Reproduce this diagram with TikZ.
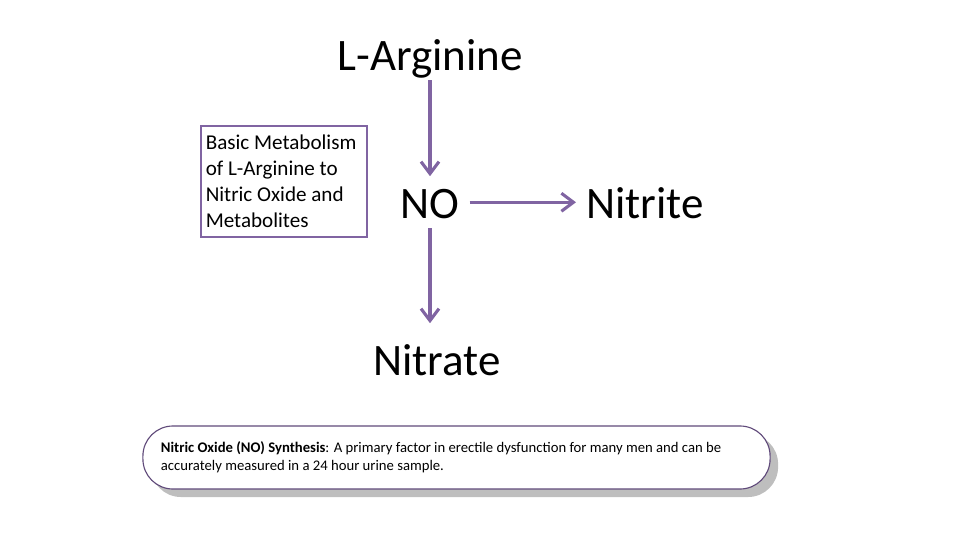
\documentclass[tikz,border=0pt]{standalone}
\usepackage{fontspec}
\setmainfont{Carlito}
\usetikzlibrary{arrows.meta, positioning, shadows}
\definecolor{arrowcolor}{RGB}{128, 100, 162}
\definecolor{notecolor}{RGB}{128, 100, 162}
\definecolor{captioncolor}{RGB}{96, 74, 122}
\definecolor{shadowcolor}{RGB}{190, 190, 190}

\begin{document}
\begin{tikzpicture}[
    x=0.025cm, y=-0.025cm,
    species/.style={font=\fontsize{32}{38}\selectfont, text height=22.4pt, text depth=0pt, inner sep=0.25cm, anchor=base},
    note/.style={draw=notecolor, line width=1.1pt, text width=3.9cm, inner xsep=0.125cm, minimum height=2.775cm, align=flush left, anchor=north west, font=\fontsize{15}{18.5}\selectfont},
    caption/.style={draw=captioncolor, line width=0.8pt, fill=white, rounded corners=0.75cm, minimum width=15.675cm, minimum height=1.575cm, text width=14.775cm, inner xsep=0.45cm, align=flush left, font=\fontsize{10.45}{12.6}\selectfont, drop shadow={shadow xshift=0.2cm, shadow yshift=-0.2cm, fill=shadowcolor, opacity=1}},
    arrow/.style={-{Straight Barb[length=0.3cm, width=0.45cm]}, line width=2.2pt, arrowcolor}
]
    \useasboundingbox (0,0) rectangle (960,540);

    % Species
    \node[species] (arg) at (430,70) {L-Arginine};
    \node[species] (no) at (430,218) {NO};
    \node[species] (nitrite) at (645,218) {Nitrite};
    \node[species] (nitrate) at (437,375) {Nitrate};

    % Pathway arrows
    \draw[arrow] (arg.south) -- (no.north);
    \draw[arrow] (no.east) -- (nitrite.west);
    \draw[arrow, shorten >=0.25cm] (no.south) -- (no.south |- nitrate.north);

    % Side note
    \node[note] (summary) at (200,125) {Basic Metabolism\\of L-Arginine to\\Nitric Oxide and\\Metabolites};

    % Caption
    \node[caption] (synthesis) at (456.5,457.5) {\textbf{Nitric Oxide (NO) Synthesis}: A primary factor in erectile dysfunction for many men and can be\\accurately measured in a 24 hour urine sample.};

\end{tikzpicture}
\end{document}
